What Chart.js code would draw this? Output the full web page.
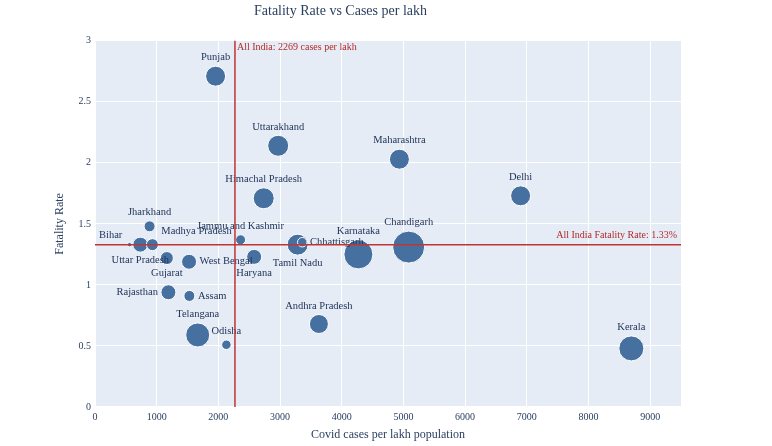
<!DOCTYPE html>
<html lang="en">
<head>
  <meta charset="UTF-8">
  <title>Fatality Rate vs Cases per lakh</title>
  <script src="https://cdn.jsdelivr.net/npm/chart.js"></script>
  <style>
    body { margin: 0; background: #fff; }
  </style>
</head>
<body>
  <canvas id="bubbleChart" width="772" height="446"></canvas>

  <script>
    const states = ['Maharashtra', 'Tamil Nadu', 'Delhi', 'Karnataka', 'Andhra Pradesh', 'Uttar Pradesh',
      'West Bengal', 'Gujarat', 'Telangana', 'Rajasthan', 'Haryana', 'Madhya Pradesh', 'Bihar', 'Assam',
      'Odisha', 'Jammu and Kashmir', 'Kerala', 'Punjab', 'Uttarakhand', 'Jharkhand', 'Chhattisgarh',
      'Himachal Pradesh', 'Chandigarh'];
    const casesPerLakh = [4935, 3285, 6900, 4270, 3630, 735, 1525, 1165, 1665, 1190, 2580, 930, 560, 1530,
      2130, 2360, 8695, 1955, 2970, 885, 3360, 2735, 5085];
    const fatalityRate = [2.03, 1.33, 1.73, 1.25, 0.68, 1.33, 1.19, 1.22, 0.59, 0.94, 1.23, 1.33, 1.33, 0.91,
      0.51, 1.37, 0.48, 2.71, 2.14, 1.48, 1.35, 1.71, 1.31];
    // bubble diameter as plotted
    const bubbleSize = [20, 21, 20, 29, 19, 15, 15, 13, 24, 15, 15, 12, 4.5, 11, 9.5, 10, 25, 20, 21, 11, 9.5, 21, 32];

    const xTicks = [0, 1000, 2000, 3000, 4000, 5000, 6000, 7000, 8000, 9000];
    const yTicks = [0, 0.5, 1, 1.5, 2, 2.5, 3];

    const allIndiaCases = 2269;
    const allIndiaFatality = 1.33;

    // where each state's name sits relative to its bubble (default: above)
    const labelSide = {
      'Bihar': 'topleft',
      'Uttar Pradesh': 'bottom',
      'Madhya Pradesh': 'topright',
      'Chhattisgarh': 'right',
      'Tamil Nadu': 'bottom',
      'Haryana': 'bottom',
      'West Bengal': 'right',
      'Gujarat': 'bottom',
      'Rajasthan': 'left',
      'Assam': 'right'
    };

    const SERIF = '"Liberation Serif", "DejaVu Serif", serif';
    const NAVY = '#2a3f5f';
    const RED = '#c23434';

    const plotBg = {
      id: 'plotBg',
      beforeDraw(chart) {
        const { ctx, chartArea: a } = chart;
        ctx.save();
        ctx.fillStyle = '#e5ecf6';
        ctx.fillRect(a.left, a.top, a.width, a.height);
        ctx.restore();
      }
    };

    const stateLabels = {
      id: 'stateLabels',
      afterDatasetsDraw(chart) {
        const { ctx } = chart;
        const points = chart.getDatasetMeta(0).data;
        ctx.save();
        ctx.font = '10.5px ' + SERIF;
        ctx.fillStyle = '#1c3055';
        points.forEach((p, i) => {
          const r = bubbleSize[i] / 2;
          const side = labelSide[states[i]] || 'top';
          let x = p.x, y = p.y;
          ctx.textAlign = 'center';
          ctx.textBaseline = 'middle';
          if (side === 'top') y = p.y - r - 8.5;
          else if (side === 'bottom') y = p.y + r + 8.5;
          else if (side === 'right') { x = p.x + r + 3; ctx.textAlign = 'left'; }
          else if (side === 'left') { x = p.x - r - 3; ctx.textAlign = 'right'; }
          else if (side === 'topright') { x = p.x + r + 3; y = p.y - r - 7.5; ctx.textAlign = 'left'; }
          else if (side === 'topleft') { x = p.x - r - 5; y = p.y - r - 7.5; ctx.textAlign = 'right'; }
          ctx.fillText(states[i], x, y);
        });
        ctx.restore();
      }
    };

    const refLines = {
      id: 'refLines',
      afterDatasetsDraw(chart) {
        const { ctx, chartArea: a, scales } = chart;
        const xp = scales.x.getPixelForValue(allIndiaCases);
        const yp = scales.y.getPixelForValue(allIndiaFatality);
        ctx.save();
        ctx.strokeStyle = RED;
        ctx.lineWidth = 1.5;
        ctx.beginPath();
        ctx.moveTo(xp, a.top);
        ctx.lineTo(xp, a.bottom);
        ctx.moveTo(a.left, yp);
        ctx.lineTo(a.right, yp);
        ctx.stroke();

        ctx.fillStyle = '#b32a2a';
        ctx.font = '10px ' + SERIF;
        ctx.textBaseline = 'middle';
        ctx.textAlign = 'left';
        ctx.fillText('All India: ' + allIndiaCases + ' cases per lakh', xp + 2, a.top + 7);
        ctx.textAlign = 'right';
        ctx.fillText('All India Fatality Rate: ' + allIndiaFatality + '%', a.right - 4, yp - 9);
        ctx.restore();
      }
    };

    new Chart(document.getElementById('bubbleChart'), {
      type: 'bubble',
      data: {
        datasets: [{
          data: states.map((s, i) => ({ x: casesPerLakh[i], y: fatalityRate[i], r: bubbleSize[i] / 2 })),
          backgroundColor: '#46709f',
          borderColor: '#ffffff',
          borderWidth: 1
        }]
      },
      options: {
        responsive: false,
        animation: false,
        layout: { padding: { left: 0, right: 91, top: 0, bottom: 0 } },
        plugins: {
          legend: { display: false },
          tooltip: { enabled: false },
          title: {
            display: true,
            text: 'Fatality Rate vs Cases per lakh',
            color: NAVY,
            font: { family: SERIF, size: 14, weight: 'normal' },
            padding: { top: 3, bottom: 21 }
          }
        },
        scales: {
          x: {
            type: 'linear',
            min: 0,
            max: 9500,
            afterBuildTicks: s => { s.ticks = xTicks.map(v => ({ value: v })); },
            afterFit: s => { s.height = 39; },
            grid: {
              color: '#ffffff',
              lineWidth: c => (c.tick && c.tick.value === 0 ? 2 : 1),
              drawTicks: false
            },
            border: { display: false },
            ticks: {
              color: NAVY,
              font: { family: SERIF, size: 10 },
              padding: 4,
              maxRotation: 0,
              callback: v => String(v)
            },
            title: {
              display: true,
              text: 'Covid cases per lakh population',
              color: NAVY,
              font: { family: SERIF, size: 12 },
              padding: { top: 4, bottom: 4 }
            }
          },
          y: {
            type: 'linear',
            min: 0,
            max: 3,
            afterBuildTicks: s => { s.ticks = yTicks.map(v => ({ value: v })); },
            afterFit: s => { s.width = 95; },
            grid: {
              color: '#ffffff',
              lineWidth: c => (c.tick && c.tick.value === 0 ? 2 : 1),
              drawTicks: false
            },
            border: { display: false },
            ticks: {
              color: NAVY,
              font: { family: SERIF, size: 10 },
              padding: 4,
              callback: v => String(v)
            },
            title: {
              display: true,
              text: 'Fatality Rate',
              color: NAVY,
              font: { family: SERIF, size: 12 },
              padding: { top: 53, bottom: 53 }
            }
          }
        }
      },
      plugins: [plotBg, stateLabels, refLines]
    });
  </script>
</body>
</html>
